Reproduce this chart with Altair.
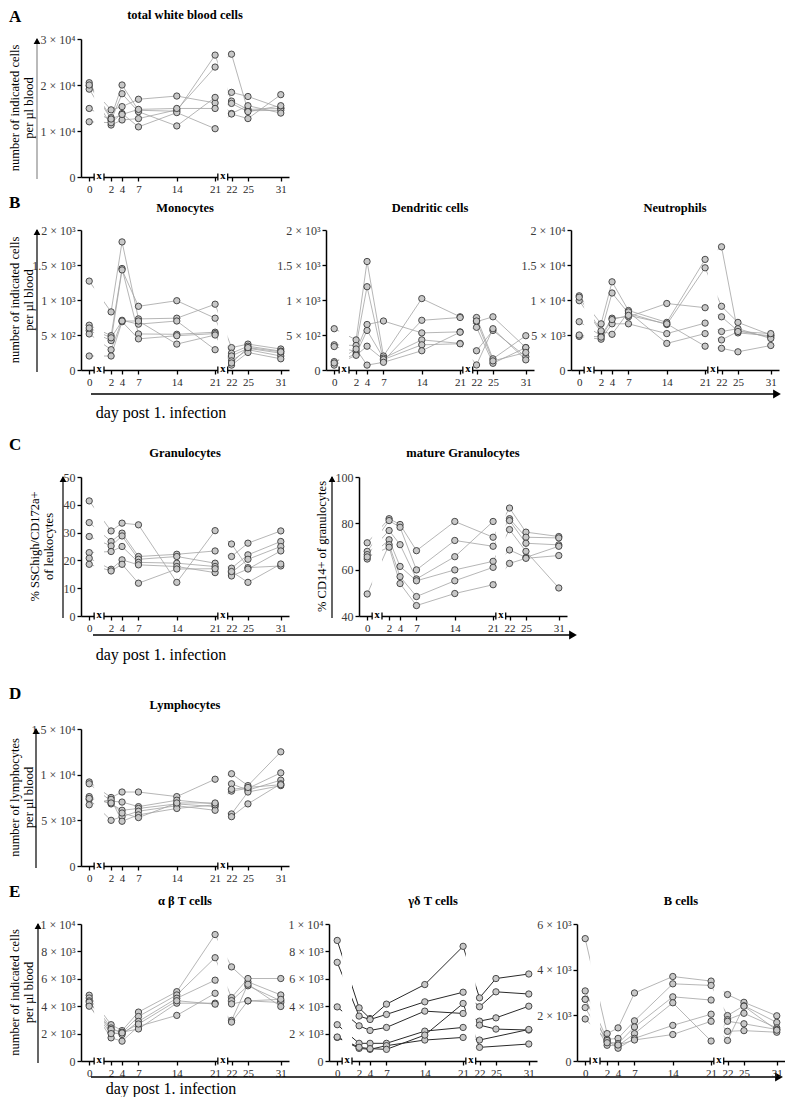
import altair as alt
import pandas as pd

FONT = "Liberation Serif"

# sampling days and broken-axis tick positions
DAYS = [0, 2, 4, 7, 14, 21, 22, 25, 31]
X_TICKS = [-2, 2, 4, 7, 14, 21, 24, 27, 33]
BREAK_LEFT = [-1.1, 21.5]
BREAK_RIGHT = [0.7, 23.3]
BREAK_MID = [-0.2, 22.4]

# one list per animal, values at DAYS
WBC = [
    [20500, 12900, 20000, 14500, 14300, 26500, 16500, 14700, 14900],
    [19800, 14600, 15300, 16900, 17600, 16100, 18400, 17500, 15000],
    [19100, 11300, 12400, 12700, 14600, 23900, 26700, 14400, 14500],
    [14900, 12300, 18100, 14200, 11100, 17300, 13800, 15500, 13900],
    [12000, 11800, 13800, 10900, 14000, 10500, 13700, 12700, 17900],
    [20000, 12600, 13600, 14700, 14900, 14900, 16000, 14200, 15500],
]
MONO = [
    [1270, 830, 1830, 730, 740, 940, 320, 370, 300],
    [640, 490, 1450, 515, 510, 540, 240, 340, 270],
    [565, 420, 1430, 910, 990, 740, 200, 310, 240],
    [515, 290, 710, 655, 700, 290, 130, 290, 200],
    [200, 200, 690, 445, 490, 520, 70, 250, 160],
    [600, 460, 700, 700, 370, 500, 100, 320, 260],
]
DC = [
    [590, 430, 1550, 200, 1020, 760, 750, 160, 490],
    [360, 350, 1190, 130, 710, 750, 690, 760, 320],
    [335, 265, 650, 700, 530, 545, 610, 96, 320],
    [120, 225, 565, 170, 430, 380, 275, 565, 190],
    [70, 210, 340, 150, 360, 375, 72, 590, 145],
    [100, 300, 70, 110, 275, 540, 700, 130, 250],
]
NEUT = [
    [10600, 6600, 12600, 8500, 6800, 15800, 17600, 5300, 4900],
    [9900, 5400, 11000, 8100, 6500, 14600, 9100, 6800, 5000],
    [6900, 4900, 7400, 7600, 9500, 8900, 7600, 5600, 4700],
    [4800, 4400, 6600, 6600, 5200, 6700, 5500, 5900, 4500],
    [10400, 5600, 5100, 8300, 3800, 5200, 4300, 5500, 5200],
    [5000, 4700, 7200, 7800, 6600, 3400, 3100, 2600, 3500],
]
GRAN = [
    [41.4, 30.6, 33.4, 32.8, 12.1, 30.7, 25.9, 17.4, 18.0],
    [33.6, 26.8, 29.8, 21.4, 22.2, 23.4, 21.4, 26.2, 30.6],
    [28.6, 25.2, 28.8, 20.4, 21.4, 19.0, 17.2, 22.0, 26.8],
    [22.8, 23.2, 25.0, 19.3, 19.0, 17.8, 15.6, 20.4, 25.0],
    [20.8, 16.8, 20.2, 18.4, 17.8, 15.6, 14.4, 16.9, 23.4],
    [18.6, 16.2, 18.6, 11.8, 16.9, 17.0, 16.0, 12.1, 18.7],
]
MATURE = [
    [71.6, 82.0, 79.5, 68.2, 80.8, 74.0, 86.6, 76.2, 74.3],
    [67.9, 81.2, 78.3, 59.9, 72.6, 70.1, 82.0, 74.0, 73.7],
    [66.5, 76.9, 70.8, 56.0, 65.6, 80.8, 81.2, 71.4, 70.7],
    [64.6, 72.9, 61.4, 55.2, 59.9, 63.6, 77.3, 67.9, 52.1],
    [49.5, 70.8, 57.0, 48.4, 55.2, 61.0, 68.5, 65.3, 70.1],
    [65.5, 69.7, 54.0, 44.5, 49.7, 53.5, 62.7, 64.9, 66.1],
]
LYMPH = [
    [9200, 7500, 8100, 8100, 7600, 9500, 10100, 8800, 12500],
    [9000, 7100, 7000, 6500, 7200, 6800, 8200, 8500, 10200],
    [7600, 6800, 6100, 6300, 6800, 6500, 9000, 8300, 9400],
    [7300, 5000, 5400, 6000, 6600, 6100, 5700, 8100, 8800],
    [6700, 7300, 4900, 5600, 6300, 6700, 5400, 6800, 9000],
    [7400, 6900, 5800, 5300, 6900, 6900, 8400, 8600, 8900],
]
AB = [
    [4800, 2650, 2220, 3570, 5060, 9230, 6870, 5780, 4820],
    [4600, 2410, 2050, 3250, 4820, 7540, 4630, 6020, 6020],
    [4390, 2100, 1930, 2890, 4580, 5900, 4410, 5490, 4390],
    [4100, 1690, 1450, 2530, 3330, 4940, 4170, 4390, 4270],
    [4300, 2300, 2100, 2340, 4220, 4220, 2960, 5600, 3980],
    [4000, 2000, 2050, 2700, 4400, 4150, 2840, 4390, 4500],
]
GD = [
    [8800, 3880, 3100, 4150, 5580, 8370, 4610, 6020, 6350],
    [7200, 3280, 3030, 3400, 4320, 5020, 3960, 5050, 4890],
    [3950, 2570, 2230, 2450, 3640, 3470, 2910, 3150, 4000],
    [2650, 1290, 1290, 1290, 2180, 2450, 2620, 2330, 2260],
    [1720, 920, 850, 1120, 1530, 1720, 1530, None, 2300],
    [1750, 1000, 900, 850, 1890, 4200, 995, None, 1240],
]
BC = [
    [5360, 1200, 1450, 2980, 3700, 3500, 2910, 2570, 1980],
    [3070, 950, 990, 1760, 3380, 3310, 1990, 2420, 1690],
    [2710, 850, 760, 1490, 2810, 2670, 1810, 2090, 1450],
    [2340, 690, 660, 1200, 2550, 875, 1740, 1630, 1380],
    [1840, 900, 560, 990, 1560, 2050, 1300, 1330, 1260],
    [2700, 800, 700, 920, 1160, 1740, 900, 2400, 1350],
]

# axis ticks / labels (thin spaces around the multiplication sign)
TK_WBC = [0, 10000, 20000, 30000]
LB_WBC = ["0", "1 × 10⁴", "2 × 10⁴", "3 × 10⁴"]
TK_2K = [0, 500, 1000, 1500, 2000]
LB_2K = ["0", "5 × 10²", "1 × 10³", "1.5 × 10³", "2 × 10³"]
TK_20K = [0, 5000, 10000, 15000, 20000]
LB_20K = ["0", "5 × 10³", "1 × 10⁴", "1.5 × 10⁴", "2 × 10⁴"]
TK_GRAN = [0, 10, 20, 30, 40, 50]
LB_GRAN = ["0", "10", "20", "30", "40", "50"]
TK_MAT = [40, 60, 80, 100]
LB_MAT = ["40", "60", "80", "100"]
TK_LYM = [0, 5000, 10000, 15000]
LB_LYM = ["0", "5 × 10³", "1 × 10⁴", "1.5 × 10⁴"]
TK_10K = [0, 2000, 4000, 6000, 8000, 10000]
LB_10K = ["0", "2 × 10³", "4 × 10³", "6 × 10³", "8 × 10³", "1 × 10⁴"]
TK_6K = [0, 2000, 4000, 6000]
LB_6K = ["0", "2 × 10³", "4 × 10³", "6 × 10³"]

YT_CELLS = ["number of indicated cells", "per µl blood"]
YT_GRAN = ["% SSChigh/CD172a+", "of leukocytes"]
YT_MAT = ["% CD14+ of granulocytes"]
YT_LYM = ["number of lymphocytes", "per µl blood"]
XLABEL = "day post 1. infection"

W = 208
XDOM = [-3.5, 34.5]
POS_EXPR = "datum.day == 0 ? -2 : (datum.day <= 21 ? datum.day : datum.day + 2)"
XLAB = "datum.value < 0 ? '0' : (datum.value > 22 ? '' + (datum.value - 2) : '' + datum.value)"

ONE = pd.DataFrame({"k": [0]})
GAPS = pd.DataFrame({"g1": BREAK_LEFT, "g2": BREAK_RIGHT, "gm": BREAK_MID})


def long_df(series):
    rows = []
    for i, animal in enumerate(series):
        for d, val in zip(DAYS, animal):
            if val is not None:
                rows.append({"animal": i, "day": d, "value": val})
    return pd.DataFrame(rows)


def txt(text, x, y, **kw):
    return alt.Chart(ONE).mark_text(text=text, font=FONT, color="black", **kw).encode(
        x=alt.value(x), y=alt.value(y))


def panel(series, ydom, yticks, ylabels, title, h, title_dy,
          ytitle=None, ytitle_x=-66, arrow_x=None, arrow_color="black",
          letter=None, letter_dy=-26, bottom=None, pad=None,
          line_color="#a3a3a3", line_width=0.8):
    df = long_df(series)
    xs = alt.Scale(domain=XDOM, nice=False, zero=False)
    ys = alt.Scale(domain=ydom, nice=False, zero=False)
    lab = "".join(f"datum.value == {t} ? '{l}' : " for t, l in zip(yticks, ylabels)) + "''"
    xaxis = alt.Axis(values=X_TICKS, labelExpr=XLAB, title=None, zindex=0)
    yaxis = alt.Axis(values=yticks, labelExpr=lab, title=None, zindex=0,
                     labelFontSize=12, labelColor="#3a3a3a")
    base = alt.Chart(df).transform_calculate(v=POS_EXPR)
    layers = [
        base.mark_line(color=line_color, strokeWidth=line_width).encode(
            x=alt.X("v:Q", scale=xs, axis=xaxis),
            y=alt.Y("value:Q", scale=ys, axis=yaxis),
            detail="animal:N"),
        alt.Chart(GAPS).mark_rect(color="white", opacity=1).encode(
            x=alt.X("g1:Q", scale=xs, axis=xaxis), x2="g2:Q",
            y=alt.value(-4), y2=alt.value(h + 1.8)),
        alt.Chart(GAPS).mark_rule(color="black", strokeWidth=1.3).encode(
            x=alt.X("g1:Q", scale=xs, axis=xaxis),
            y=alt.value(h - 3.5), y2=alt.value(h + 3.5)),
        alt.Chart(GAPS).mark_rule(color="black", strokeWidth=1.3).encode(
            x=alt.X("g2:Q", scale=xs, axis=xaxis),
            y=alt.value(h - 3.5), y2=alt.value(h + 3.5)),
        alt.Chart(GAPS).mark_text(text="x", font=FONT, fontWeight="bold", fontSize=10.5,
                                  align="center", baseline="middle", color="black").encode(
            x=alt.X("gm:Q", scale=xs, axis=xaxis), y=alt.value(h - 1)),
        base.mark_circle(size=40, fill="#c8c8c8", stroke="#3a3a3a",
                         strokeWidth=0.9, opacity=1).encode(
            x=alt.X("v:Q", scale=xs, axis=xaxis),
            y=alt.Y("value:Q", scale=ys, axis=yaxis)),
        txt(title, W / 2, title_dy, fontSize=12.5, fontWeight="bold",
            align="center", baseline="middle"),
    ]
    if ytitle is not None:
        layers.append(txt(ytitle, ytitle_x, h / 2, fontSize=12.5, angle=270,
                          align="center", baseline="middle", lineHeight=14))
    if arrow_x is not None:
        layers.append(alt.Chart(ONE).mark_rule(color=arrow_color, strokeWidth=1.2).encode(
            x=alt.value(arrow_x), y=alt.value(0), y2=alt.value(h + 2)))
        layers.append(alt.Chart(ONE).mark_point(shape="triangle-up", filled=True, color="black",
                                                size=45, opacity=1).encode(
            x=alt.value(arrow_x), y=alt.value(2)))
    if letter is not None:
        layers.append(txt(letter, -72, letter_dy, fontSize=17, fontWeight="bold",
                          align="left", baseline="middle"))
    if bottom is not None:
        x0, x1, ldy, tx, tdy = bottom
        layers.append(alt.Chart(ONE).mark_rule(color="black", strokeWidth=1.3).encode(
            x=alt.value(x0), x2=alt.value(x1), y=alt.value(h + ldy)))
        layers.append(alt.Chart(ONE).mark_point(shape="triangle-right", filled=True, color="black",
                                                size=80, opacity=1).encode(
            x=alt.value(x1 + 2), y=alt.value(h + ldy)))
        layers.append(txt(XLABEL, tx, h + tdy, fontSize=16, align="center", baseline="middle"))
    if pad is not None:
        top, bot = pad
        # invisible frame that fixes this row's layout bounds
        layers.append(alt.Chart(ONE).mark_rule(opacity=0, strokeWidth=0.2).encode(
            x=alt.value(-73), y=alt.value(-top), y2=alt.value(h + bot)))
    return alt.layer(*layers).properties(width=W, height=h)


pA = panel(WBC, [0, 30000], TK_WBC, LB_WBC, "total white blood cells", 138, -24,
           ytitle=YT_CELLS, arrow_x=-44, arrow_color="#8c8c8c", letter="A", letter_dy=-22,
           pad=(31, 17))

pMono = panel(MONO, [0, 2000], TK_2K, LB_2K, "Monocytes", 140, -22,
              ytitle=YT_CELLS, arrow_x=-44, letter="B", letter_dy=-27,
              bottom=(10, 694, 24, 80, 43), pad=(36, 51))
pDC = panel(DC, [0, 2000], TK_2K, LB_2K, "Dendritic cells", 140, -22)
pNeut = panel(NEUT, [0, 20000], TK_20K, LB_20K, "Neutrophils", 140, -22)

pGran = panel(GRAN, [0, 50], TK_GRAN, LB_GRAN, "Granulocytes", 139, -24,
              ytitle=YT_GRAN, ytitle_x=-46, arrow_x=-18, letter="C", letter_dy=-32,
              bottom=(12, 490, 19, 80, 39), pad=(56, 47))
pMat = panel(MATURE, [40, 100], TK_MAT, LB_MAT, "mature Granulocytes", 139, -24,
             ytitle=YT_MAT, ytitle_x=-37, arrow_x=-27)

pLym = panel(LYMPH, [0, 15000], TK_LYM, LB_LYM, "Lymphocytes", 137, -24,
             ytitle=YT_LYM, arrow_x=-45, letter="D", letter_dy=-35, pad=(66, 17))

pAB = panel(AB, [0, 10000], TK_10K, LB_10K, "α β T cells", 137, -23,
            ytitle=YT_CELLS, arrow_x=-43, letter="E", letter_dy=-32,
            bottom=(10, 696, 16, 90, 28), pad=(41, 36))
pGD = panel(GD, [0, 10000], TK_10K, LB_10K, "γδ T cells", 137, -23,
            line_color="#2a2a2a", line_width=1.0)
pBC = panel(BC, [0, 6000], TK_6K, LB_6K, "B cells", 137, -23)

rowA = alt.hconcat(pA, spacing=0, bounds="flush")
rowB = alt.hconcat(pMono, pDC, pNeut, spacing=37, bounds="flush")
rowC = alt.hconcat(pGran, pMat, spacing=70, bounds="flush")
rowD = alt.hconcat(pLym, spacing=0, bounds="flush")
rowE = alt.hconcat(pAB, pGD, pBC, spacing=40, bounds="flush")

chart = alt.vconcat(rowA, rowB, rowC, rowD, rowE, spacing=0).properties(
    padding=0, background="white"
).configure_view(stroke=None).configure_axis(
    domainColor="black", domainWidth=1.5, tickColor="black", tickWidth=1.3, tickSize=4,
    labelFont=FONT, labelFontSize=11, labelColor="#2a2a2a", labelPadding=2,
    labelOverlap=False, labelFlush=False, grid=False,
)

chart.save("out.html", embed_options={"renderer": "svg", "actions": False})
